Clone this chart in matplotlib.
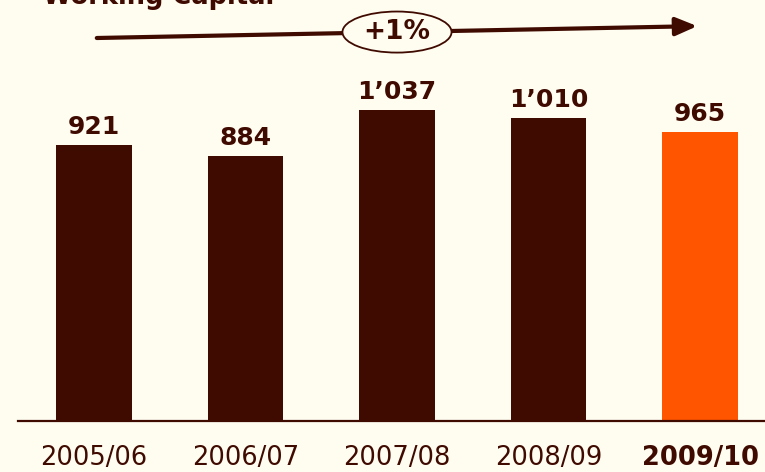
import matplotlib.pyplot as plt
from matplotlib.patches import Ellipse, FancyArrowPatch

# working capital by fiscal year
years = ['2005/06', '2006/07', '2007/08', '2008/09', '2009/10']
values = [921, 884, 1037, 1010, 965]
labels = ['921', '884', '1\u2019037', '1\u2019010', '965']
growth = '+1%'

dark = '#3F0A00'
orange = '#FF5500'
bg = '#FFFCF0'

fig = plt.figure(figsize=(7.65, 4.72), dpi=100, facecolor=bg)
W, H = 765, 472
ax = fig.add_axes([18 / W, 51 / H, 747 / W, 421 / H])
ax.set_facecolor(bg)

x = list(range(len(years)))
colors = [dark] * (len(years) - 1) + [orange]
ax.bar(x, values, width=0.5, color=colors, zorder=2)

for xi, v, lab in zip(x, values, labels):
    ax.annotate(lab, (xi, v), xytext=(0, 8), textcoords='offset points',
                ha='center', va='baseline', fontsize=18, fontweight='bold',
                color=dark)

ax.set_xlim(-0.5017, 4.429)
ax.set_ylim(0, 1405)
ax.set_yticks([])
ax.set_xticks(x)
ax.set_xticklabels(years, fontsize=18.5, color=dark)
ax.get_xticklabels()[-1].set_fontweight('bold')
ax.tick_params(axis='x', length=0, pad=17.5)
for s in ['top', 'left', 'right']:
    ax.spines[s].set_visible(False)
ax.spines['bottom'].set_color(dark)
ax.spines['bottom'].set_linewidth(1.6)

# trend arrow with growth bubble
arr = FancyArrowPatch((0, 1278), (4, 1318), arrowstyle='-|>,head_length=1.3,head_width=0.55',
                      mutation_scale=10, lw=3, color=dark, clip_on=False, zorder=3)
ax.add_patch(arr)
ell = Ellipse((2, 1298), 0.72, 137, facecolor=bg, edgecolor=dark, lw=1.3,
              clip_on=False, zorder=4)
ax.add_patch(ell)
ax.text(2, 1298, growth, ha='center', va='center', fontsize=19,
        fontweight='bold', color=dark, zorder=5)

fig.text(43 / W, 1 - 4 / H, 'Working Capital', fontsize=18.5, fontweight='bold',
         color=dark, va='baseline', ha='left')

fig.savefig('out.png', dpi=100, facecolor=bg)
